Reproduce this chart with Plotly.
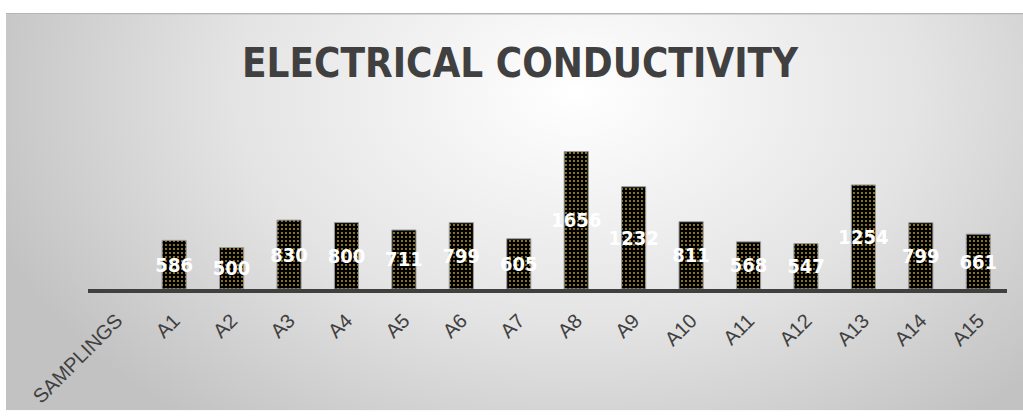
import base64
import plotly.graph_objects as go

# Sampling points (first slot is the axis caption, with no bar)
categories = ["SAMPLINGS", "A1", "A2", "A3", "A4", "A5", "A6", "A7", "A8",
              "A9", "A10", "A11", "A12", "A13", "A14", "A15"]
conductivity = [None, 586, 500, 830, 800, 711, 799, 605, 1656,
                1232, 811, 568, 547, 1254, 799, 661]
bar_labels = ["" if v is None else str(v) for v in conductivity]

W, H = 1023, 419
ML, MR, MT, MB = 88, 16, 123, 125
PW, PH = W - ML - MR, H - MT - MB

NARROW = "Liberation Sans Narrow, DejaVu Sans Condensed, Arial Narrow, sans-serif"

# Soft radial backdrop for the chart card
card_w, card_h = W - 6, H - 11
svg = f"""<svg xmlns='http://www.w3.org/2000/svg' width='{card_w}' height='{card_h}'>
<defs><radialGradient id='g' gradientUnits='userSpaceOnUse' cx='570' cy='80' r='620'
 gradientTransform='translate(570 80) scale(1 0.7) translate(-570 -80)'>
<stop offset='0' stop-color='#ffffff'/><stop offset='0.55' stop-color='#e4e4e4'/>
<stop offset='1' stop-color='#c2c2c2'/></radialGradient></defs>
<rect width='{card_w}' height='{card_h}' fill='url(#g)'/></svg>"""
bg_uri = "data:image/svg+xml;base64," + base64.b64encode(svg.encode()).decode()

fig = go.Figure(go.Bar(
    x=categories,
    y=conductivity,
    width=0.42,
    text=bar_labels,
    textposition="inside",
    insidetextanchor="middle",
    constraintext="none",
    textangle=0,
    textfont=dict(family=NARROW, size=20, color="white", weight="bold"),
    marker=dict(
        color="black",
        line=dict(color="#9a9a9a", width=1),
        pattern=dict(shape=".", bgcolor="#030303", fgcolor="#b89a30",
                     size=4, solidity=0.18, fillmode="replace"),
    ),
    hoverinfo="x+y",
))

fig.update_layout(
    width=W, height=H,
    margin=dict(l=ML, r=MR, t=MT, b=MB, pad=0),
    paper_bgcolor="white",
    plot_bgcolor="rgba(0,0,0,0)",
    showlegend=False,
    title=dict(
        text="ELECTRICAL CONDUCTIVITY",
        x=520 / W, xanchor="center",
        y=1 - 63 / H, yanchor="middle",
        font=dict(family=NARROW, size=40, color="#404040", weight="bold"),
    ),
    images=[dict(
        source=bg_uri, xref="paper", yref="paper",
        x=(6 - ML) / PW, y=(MT - 11) / PH + 1,
        sizex=card_w / PW, sizey=card_h / PH,
        xanchor="left", yanchor="top", sizing="stretch", layer="below",
    )],
    shapes=[dict(
        type="line", xref="paper", yref="paper",
        x0=(6 - ML) / PW, x1=(W - ML) / PW,
        y0=(MT - 10.5) / PH + 1, y1=(MT - 10.5) / PH + 1,
        line=dict(color="#b4b4b4", width=1.5),
    )],
    xaxis=dict(
        type="category",
        tickangle=-45,
        ticks="",
        showline=True, linecolor="#404040", linewidth=4,
        showgrid=False,
        ticklabelstandoff=8,
        tickfont=dict(family="Liberation Sans", size=20, color="#404040"),
        range=[-0.5, len(categories) - 0.5],
    ),
    yaxis=dict(
        range=[0, 2000],
        visible=False,
        showgrid=False,
        zeroline=False,
    ),
    bargap=0.58,
)

fig.write_html("out.html")
